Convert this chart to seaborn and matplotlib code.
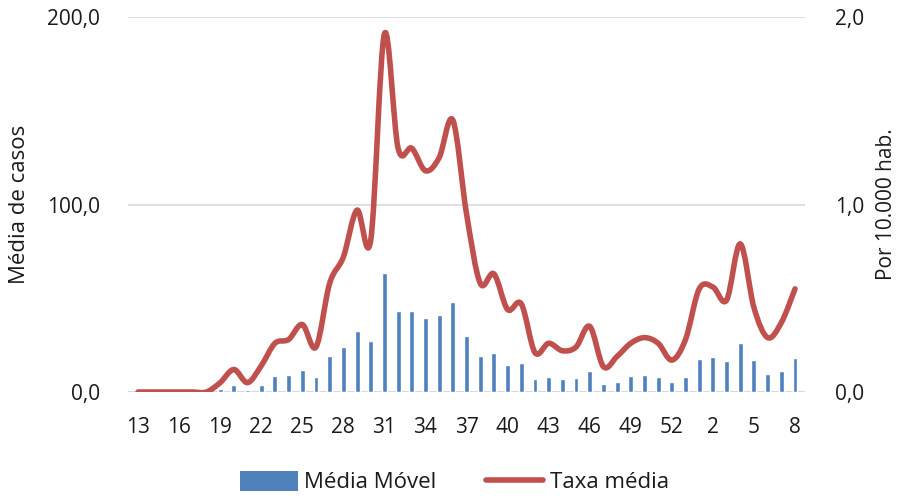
import numpy as np
import pandas as pd
import matplotlib
matplotlib.use("Agg")
import matplotlib.pyplot as plt
from matplotlib.path import Path
from matplotlib.patches import PathPatch
from matplotlib.lines import Line2D
from matplotlib.patches import Patch
import seaborn as sns

# Epidemiological weeks (13..53 of one year, 1..8 of the next)
weeks = [str(w) for w in list(range(13, 54)) + list(range(1, 9))]

# Moving average of cases
media_movel = [0, 0, 0, 0, 0, 0, 1.6, 3.7, 1.0, 3.7, 8.4, 9.0, 11.7, 7.8, 19.2,
               24.2, 32.4, 27.2, 63.5, 43.4, 43.0, 39.3, 41.0, 48.0, 30.0, 19.2,
               20.6, 14.2, 15.3, 6.8, 8.0, 7.1, 7.6, 11.2, 4.3, 5.5, 8.4, 8.9,
               7.8, 5.3, 8.0, 17.6, 18.5, 16.4, 26.0, 16.9, 9.4, 11.0, 18.1]

# Average rate per 10,000 inhabitants
taxa_media = [0, 0, 0, 0, 0, 0, 0.05, 0.12, 0.05, 0.14, 0.26, 0.28, 0.36, 0.24,
              0.58, 0.72, 0.97, 0.81, 1.91, 1.30, 1.30, 1.18, 1.25, 1.45, 0.95,
              0.58, 0.63, 0.44, 0.47, 0.21, 0.26, 0.22, 0.24, 0.35, 0.135, 0.19,
              0.26, 0.29, 0.26, 0.17, 0.28, 0.55, 0.56, 0.49, 0.79, 0.45, 0.29,
              0.37, 0.55]

left_ticks = [0, 100, 200]
right_ticks = [0, 1, 2]

BLUE = "#4F81BD"
RED = "#C0504D"
GRID = "#D9D9D9"
TEXT = "#1a1a1a"
FS = 15

sns.set_style("white")
plt.rcParams["font.family"] = ["Open Sans", "DejaVu Sans"]

df = pd.DataFrame({"semana": weeks, "media": media_movel})

fig = plt.figure(figsize=(9, 5), dpi=100)
ax = fig.add_axes([0.142, 0.216, 0.752, 0.75])

sns.barplot(data=df, x="semana", y="media", order=weeks, color=BLUE,
            width=0.36, saturation=1, ax=ax, zorder=2)

ax.set_ylim(0, 200)
ax.set_xlim(-0.75, len(weeks) - 0.3)
ax.set_yticks(left_ticks)
ax.set_yticklabels([f"{v:.1f}".replace(".", ",") for v in left_ticks],
                   fontsize=FS, color=TEXT)
ax.grid(axis="y", color=GRID, linewidth=1.2, zorder=0)
ax.set_axisbelow(True)
for s in ["top", "right", "left", "bottom"]:
    ax.spines[s].set_visible(False)
ax.axhline(0, color=GRID, linewidth=1.5, zorder=1)
ax.tick_params(axis="y", length=0, pad=20)
ax.tick_params(axis="x", length=0, pad=18)

xpos = np.arange(len(weeks))
ax.set_xticks(xpos[::3])
ax.set_xticklabels(weeks[::3], fontsize=FS, color=TEXT)
ax.set_xlabel("")
ax.set_ylabel("Média de casos", fontsize=FS + 1, color=TEXT, labelpad=12)

# Secondary axis with smoothed rate curve
ax2 = ax.twinx()
ax2.set_ylim(0, 2)
ax2.set_yticks(right_ticks)
ax2.set_yticklabels([f"{v:.1f}".replace(".", ",") for v in right_ticks],
                    fontsize=FS, color=TEXT)
ax2.tick_params(axis="y", length=0, pad=22)
for s in ["top", "right", "left", "bottom"]:
    ax2.spines[s].set_visible(False)
ax2.set_ylabel("Por 10.000 hab.", fontsize=FS, color=TEXT, labelpad=8)

y = np.asarray(taxa_media, dtype=float)
x = xpos.astype(float)
n = len(x)
verts = [(x[0], y[0])]
codes = [Path.MOVETO]
for i in range(n - 1):
    x0, y0 = (x[i - 1], y[i - 1]) if i > 0 else (x[i], y[i])
    x3, y3 = (x[i + 2], y[i + 2]) if i + 2 < n else (x[i + 1], y[i + 1])
    c1 = (x[i] + (x[i + 1] - x0) / 6, y[i] + (y[i + 1] - y0) / 6)
    c2 = (x[i + 1] - (x3 - x[i]) / 6, y[i + 1] - (y3 - y[i]) / 6)
    verts += [c1, c2, (x[i + 1], y[i + 1])]
    codes += [Path.CURVE4] * 3
curve = PathPatch(Path(verts, codes), facecolor="none", edgecolor=RED,
                  linewidth=4.0, capstyle="round", joinstyle="round", zorder=3)
ax2.add_patch(curve)

handles = [Patch(facecolor=BLUE, edgecolor="none"),
           Line2D([0], [0], color=RED, linewidth=4.0, solid_capstyle="round")]
fig.legend(handles, ["Média Móvel", "Taxa média"], loc="center",
           bbox_to_anchor=(0.505, 0.036), ncol=2, frameon=False, fontsize=FS + 1,
           handlelength=2.6, handleheight=1.0, columnspacing=2.2,
           handletextpad=0.3, labelcolor=TEXT)

fig.savefig("out.png", dpi=100)
